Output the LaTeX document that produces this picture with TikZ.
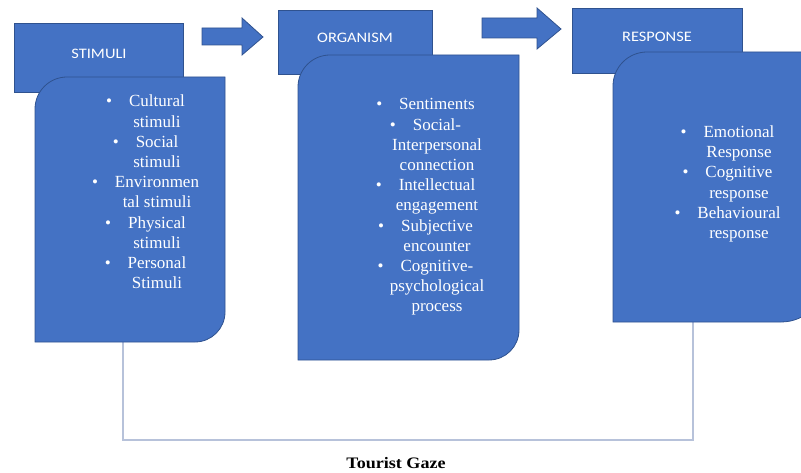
\documentclass[tikz,border=0pt]{standalone}
\usepackage{fontspec}
\setmainfont{Liberation Serif}
\newfontfamily\headfont{Carlito}
\definecolor{boxblue}{HTML}{4472C4}
\definecolor{boxedge}{HTML}{2F528F}
\definecolor{gazeblue}{HTML}{B7C2DA}
\newcommand{\listdot}{\llap{\textbullet\hspace{17pt}}}

\begin{document}
\begin{tikzpicture}[x=1pt,y=-1pt,
    blue box/.style={fill=boxblue,draw=boxedge,line width=0.8pt},
    head label/.style={text=white,font=\headfont\fontsize{14.5}{18}\selectfont,xscale=1.13},
    item list/.style={text=white,align=center,inner sep=0pt,font=\fontsize{17}{20.2}\selectfont},
    gaze line/.style={draw=gazeblue,line width=1.1pt}]
    \useasboundingbox (0,0) rectangle (801,473);
    \clip (0,0) rectangle (801,473);

    \coordinate (stimbot) at (123,342);
    \coordinate (respbot) at (693,322);
    \draw[gaze line] (stimbot) -- ++(0,98) -| (respbot);

    % stimuli
    \draw[blue box] (14,23) rectangle (183,92);
    \node[head label] (stimhead) at (99,54) {STIMULI};
    \draw[blue box] (35,342) -- (35,109) arc[start angle=180,end angle=270,radius=32] -- (225,77) -- (225,312) arc[start angle=0,end angle=90,radius=30] -- cycle;
    \node[item list] (stimlist) at (157,192) {\listdot Cultural\\stimuli\\\listdot Social\\stimuli\\\listdot Environmen\\tal stimuli\\\listdot Physical\\stimuli\\\listdot Personal\\Stimuli};

    \draw[blue box] (202,28) -- (242,28) -- (242,18) -- (263,37) -- (242,55) -- (242,45) -- (202,45) -- cycle;

    % organism
    \draw[blue box] (278,10) rectangle (432,74);
    \node[head label] (orghead) at (355,38) {ORGANISM};
    \draw[blue box] (298,360) -- (298,87) arc[start angle=180,end angle=270,radius=32] -- (519,55) -- (519,330) arc[start angle=0,end angle=90,radius=30] -- cycle;
    \node[item list] (orglist) at (437,207) {\listdot Sentiments\\\listdot Social-\\Interpersonal\\connection\\\listdot Intellectual\\engagement\\\listdot Subjective\\encounter\\\listdot Cognitive-\\psychological\\process};

    \draw[blue box] (482,18) -- (537,18) -- (537,8) -- (561,29) -- (537,49) -- (537,38) -- (482,38) -- cycle;

    % response
    \draw[blue box] (572,8) rectangle (742,73);
    \node[head label] (resphead) at (657,37) {RESPONSE};
    \draw[blue box] (613,322) -- (613,86) arc[start angle=180,end angle=270,radius=34] -- (826,52) -- (826,277) arc[start angle=0,end angle=90,radius=45] -- cycle;
    \node[item list] (resplist) at (739,184) {\listdot Emotional\\Response\\\listdot Cognitive\\response\\\listdot Behavioural\\response};

    \node[font=\bfseries\fontsize{16}{19}\selectfont,xscale=1.13] (gaze) at (396,463) {Tourist Gaze};
\end{tikzpicture}
\end{document}
